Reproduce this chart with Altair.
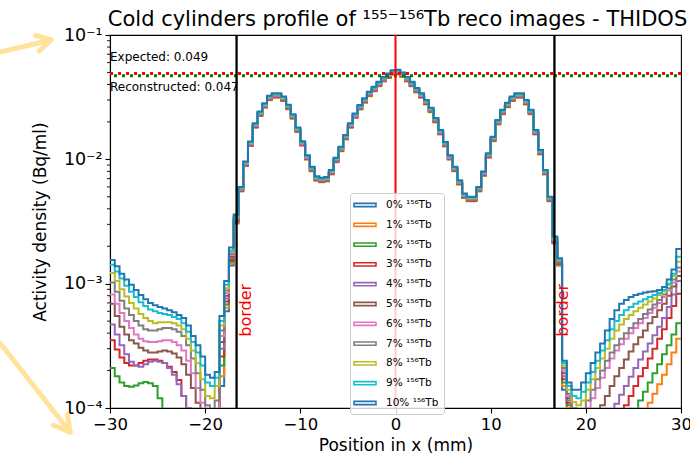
import altair as alt
import pandas as pd

FONT = "DejaVu Sans"

# ---------------- data ----------------
series_labels = ["0% ¹⁵⁶Tb", "1% ¹⁵⁶Tb", "2% ¹⁵⁶Tb", "3% ¹⁵⁶Tb", "4% ¹⁵⁶Tb", "5% ¹⁵⁶Tb",
                 "6% ¹⁵⁶Tb", "7% ¹⁵⁶Tb", "8% ¹⁵⁶Tb", "9% ¹⁵⁶Tb", "10% ¹⁵⁶Tb"]
series_colors = ["#1f77b4", "#ff7f0e", "#2ca02c", "#d62728", "#9467bd", "#8c564b",
                 "#e377c2", "#7f7f7f", "#bcbd22", "#17becf", "#1f77b4"]

bin_width = 0.5          # mm, profile sampling
x_first_edge = -30.0
x_last_edge = 30.0

# left tails: bins starting at -30.0, -29.5, ..., -17.0 (27 bins), series 0% .. 10%
left_tail = [
    [6.0e-5, 5.3e-5, 4.8e-5, 4.5e-5, 4.4e-5, 4.4e-5, 4.5e-5, 4.6e-5, 4.5e-5, 4.3e-5,
     4.1e-5, 3.9e-5, 3.7e-5, 3.5e-5, 3.3e-5, 3.1e-5, 3.0e-5, 2.9e-5, 2.8e-5, 2.7e-5,
     2.7e-5, 2.7e-5, 2.9e-5, 1.5e-4, 6.0e-4, 1.4e-3, 3.05e-3],
    [9.5e-5, 8.0e-5, 7.0e-5, 6.5e-5, 6.2e-5, 6.2e-5, 6.4e-5, 6.5e-5, 6.3e-5, 6.0e-5,
     5.6e-5, 5.2e-5, 4.8e-5, 4.5e-5, 4.2e-5, 4.0e-5, 3.8e-5, 3.6e-5, 3.5e-5, 3.4e-5,
     3.3e-5, 3.3e-5, 3.5e-5, 1.8e-4, 6.4e-4, 1.45e-3, 3.1e-3],
    [2.1e-4, 1.8e-4, 1.6e-4, 1.5e-4, 1.48e-4, 1.52e-4, 1.58e-4, 1.62e-4, 1.58e-4, 1.5e-4,
     1.2e-4, 9.0e-5, 7.5e-5, 6.5e-5, 5.5e-5, 5.0e-5, 4.5e-5, 4.2e-5, 4.0e-5, 3.8e-5,
     3.7e-5, 3.7e-5, 4.0e-5, 2.2e-4, 6.8e-4, 1.5e-3, 3.15e-3],
    [3.5e-4, 2.95e-4, 2.55e-4, 2.3e-4, 2.2e-4, 2.2e-4, 2.3e-4, 2.4e-4, 2.45e-4, 2.45e-4,
     2.4e-4, 2.3e-4, 2.15e-4, 1.95e-4, 1.68e-4, 1.25e-4, 9.0e-5, 7.0e-5, 6.0e-5, 5.5e-5,
     5.0e-5, 5.0e-5, 6.0e-5, 2.6e-4, 7.2e-4, 1.55e-3, 3.2e-3],
    [4.7e-4, 3.9e-4, 3.2e-4, 2.7e-4, 2.35e-4, 2.2e-4, 2.15e-4, 2.25e-4, 2.35e-4, 2.4e-4,
     2.35e-4, 2.3e-4, 2.1e-4, 1.85e-4, 1.55e-4, 1.25e-4, 1.0e-4, 8.5e-5, 7.5e-5, 6.5e-5,
     6.0e-5, 6.0e-5, 7.0e-5, 3.0e-4, 7.6e-4, 1.6e-3, 3.25e-3],
    [6.9e-4, 5.5e-4, 4.5e-4, 3.9e-4, 3.5e-4, 3.3e-4, 3.05e-4, 2.9e-4, 2.8e-4, 2.8e-4,
     2.85e-4, 2.9e-4, 2.85e-4, 2.75e-4, 2.55e-4, 2.25e-4, 1.85e-4, 1.45e-4, 1.1e-4, 8.5e-5,
     7.0e-5, 7.0e-5, 8.5e-5, 3.4e-4, 8.0e-4, 1.65e-3, 3.3e-3],
    [8.2e-4, 6.9e-4, 5.8e-4, 5.0e-4, 4.4e-4, 3.9e-4, 3.6e-4, 3.45e-4, 3.4e-4, 3.4e-4,
     3.45e-4, 3.5e-4, 3.5e-4, 3.4e-4, 3.2e-4, 2.9e-4, 2.4e-4, 1.9e-4, 1.45e-4, 1.1e-4,
     8.5e-5, 8.0e-5, 9.5e-5, 3.8e-4, 8.4e-4, 1.7e-3, 3.35e-3],
    [1.02e-3, 8.6e-4, 7.3e-4, 6.3e-4, 5.6e-4, 5.0e-4, 4.6e-4, 4.3e-4, 4.2e-4, 4.2e-4,
     4.3e-4, 4.4e-4, 4.4e-4, 4.3e-4, 4.1e-4, 3.8e-4, 3.2e-4, 2.5e-4, 1.9e-4, 1.4e-4,
     1.05e-4, 9.5e-5, 1.15e-4, 4.2e-4, 8.8e-4, 1.75e-3, 3.4e-3],
    [1.22e-3, 1.05e-3, 9.0e-4, 7.9e-4, 7.0e-4, 6.3e-4, 5.7e-4, 5.3e-4, 5.0e-4, 4.8e-4,
     4.9e-4, 4.9e-4, 4.9e-4, 4.8e-4, 4.6e-4, 4.3e-4, 3.6e-4, 2.9e-4, 2.3e-4, 1.7e-4,
     1.25e-4, 1.2e-4, 1.5e-4, 4.6e-4, 9.2e-4, 1.8e-3, 3.45e-3],
    [1.42e-3, 1.25e-3, 1.1e-3, 9.6e-4, 8.6e-4, 7.8e-4, 7.1e-4, 6.6e-4, 6.2e-4, 6.0e-4,
     5.8e-4, 5.7e-4, 5.6e-4, 5.4e-4, 5.2e-4, 4.8e-4, 4.1e-4, 3.4e-4, 2.8e-4, 2.2e-4,
     1.6e-4, 1.5e-4, 1.75e-4, 5.0e-4, 9.8e-4, 1.85e-3, 3.5e-3],
    [1.55e-3, 1.38e-3, 1.2e-3, 1.08e-3, 9.8e-4, 8.9e-4, 8.1e-4, 7.5e-4, 7.0e-4, 6.7e-4,
     6.5e-4, 6.3e-4, 6.1e-4, 5.9e-4, 5.6e-4, 5.3e-4, 4.6e-4, 3.8e-4, 3.2e-4, 2.6e-4,
     1.85e-4, 1.75e-4, 1.95e-4, 5.5e-4, 1.05e-3, 1.95e-3, 3.6e-3],
]

# core (cylinders) profile of the top (10%) curve: bins starting -16.5 ... 16.0 (66 bins)
core_profile = [
    6.0e-3, 9.6e-3, 1.39e-2, 1.95e-2, 2.42e-2, 2.82e-2, 3.25e-2, 3.4e-2, 3.4e-2, 3.2e-2,
    2.75e-2, 2.3e-2, 1.8e-2, 1.4e-2, 1.08e-2, 8.7e-3, 7.3e-3, 7.1e-3, 7.2e-3, 8.2e-3,
    1.03e-2, 1.26e-2, 1.57e-2, 1.95e-2, 2.34e-2, 2.73e-2, 3.1e-2, 3.5e-2, 3.83e-2, 4.2e-2,
    4.6e-2, 4.9e-2, 5.2e-2, 5.25e-2,
    5.0e-2, 4.6e-2, 4.2e-2, 3.75e-2, 3.4e-2, 3.0e-2, 2.6e-2, 2.15e-2, 1.72e-2, 1.38e-2,
    1.08e-2, 8.7e-3, 6.8e-3, 5.3e-3, 5.0e-3, 5.0e-3, 6.0e-3, 8.0e-3, 1.12e-2, 1.52e-2,
    2.07e-2, 2.5e-2, 2.85e-2, 3.2e-2, 3.4e-2, 3.4e-2, 3.0e-2, 2.5e-2, 1.72e-2, 1.19e-2,
    8.2e-3, 5.0e-3,
]
# relative level of each series inside the cylinders (the coloured steps under the blue one)
core_level = [0.97, 0.92, 0.93, 0.935, 0.94, 0.95, 0.955, 0.965, 0.975, 0.985, 1.0]

# right tails: bins starting at 16.5, 17.0, ..., 29.5 (27 bins)
right_tail = [
    [2.1e-3, 1.4e-3, 1.4e-4, 9.5e-5, 6.5e-5, 5.0e-5, 4.5e-5, 4.2e-5, 4.0e-5, 4.0e-5,
     4.1e-5, 4.2e-5, 4.4e-5, 4.6e-5, 4.8e-5, 5.0e-5, 5.3e-5, 5.6e-5, 6.0e-5, 6.4e-5,
     6.8e-5, 7.3e-5, 7.8e-5, 8.4e-5, 9.0e-5, 9.5e-5, 9.8e-5],
    [2.12e-3, 1.41e-3, 1.5e-4, 1.0e-4, 7.0e-5, 5.5e-5, 5.0e-5, 4.8e-5, 4.7e-5, 4.8e-5,
     5.0e-5, 5.3e-5, 5.6e-5, 6.0e-5, 6.4e-5, 6.9e-5, 7.4e-5, 8.0e-5, 8.8e-5, 9.6e-5,
     1.1e-4, 1.3e-4, 1.55e-4, 1.85e-4, 2.25e-4, 2.8e-4, 3.6e-4],
    [2.15e-3, 1.43e-3, 1.6e-4, 1.05e-4, 7.5e-5, 6.0e-5, 5.5e-5, 5.2e-5, 5.2e-5, 5.4e-5,
     5.7e-5, 6.0e-5, 6.4e-5, 6.8e-5, 7.3e-5, 7.9e-5, 8.6e-5, 9.5e-5, 1.15e-4, 1.35e-4,
     1.6e-4, 1.9e-4, 2.25e-4, 2.7e-4, 3.2e-4, 3.9e-4, 4.8e-4],
    [2.18e-3, 1.45e-3, 1.7e-4, 1.1e-4, 8.0e-5, 6.5e-5, 6.0e-5, 5.8e-5, 6.0e-5, 6.3e-5,
     6.7e-5, 7.2e-5, 7.8e-5, 8.5e-5, 9.3e-5, 1.05e-4, 1.25e-4, 1.5e-4, 1.8e-4, 2.1e-4,
     2.5e-4, 3.0e-4, 3.6e-4, 4.3e-4, 5.3e-4, 6.6e-4, 8.3e-4],
    [2.2e-3, 1.47e-3, 1.8e-4, 1.15e-4, 8.5e-5, 7.0e-5, 6.5e-5, 6.5e-5, 7.0e-5, 7.5e-5,
     8.0e-5, 8.8e-5, 9.6e-5, 1.08e-4, 1.28e-4, 1.5e-4, 1.78e-4, 2.1e-4, 2.45e-4, 2.85e-4,
     3.3e-4, 3.85e-4, 4.5e-4, 5.3e-4, 6.5e-4, 8.2e-4, 1.05e-3],
    [2.22e-3, 1.49e-3, 1.9e-4, 1.2e-4, 9.0e-5, 7.8e-5, 7.5e-5, 7.8e-5, 8.5e-5, 9.5e-5,
     1.05e-4, 1.25e-4, 1.5e-4, 1.8e-4, 2.1e-4, 2.45e-4, 2.85e-4, 3.25e-4, 3.7e-4, 4.2e-4,
     4.8e-4, 5.4e-4, 6.1e-4, 6.9e-4, 8.0e-4, 9.5e-4, 1.15e-3],
    [2.25e-3, 1.51e-3, 2.0e-4, 1.25e-4, 9.5e-5, 8.5e-5, 8.8e-5, 1.0e-4, 1.2e-4, 1.45e-4,
     1.75e-4, 2.1e-4, 2.5e-4, 2.9e-4, 3.25e-4, 3.6e-4, 4.0e-4, 4.4e-4, 4.8e-4, 5.3e-4,
     5.8e-4, 6.4e-4, 7.0e-4, 7.8e-4, 8.8e-4, 1.02e-3, 1.25e-3],
    [2.28e-3, 1.53e-3, 2.1e-4, 1.3e-4, 1.0e-4, 9.2e-5, 9.8e-5, 1.15e-4, 1.4e-4, 1.7e-4,
     2.0e-4, 2.4e-4, 2.8e-4, 3.2e-4, 3.6e-4, 4.0e-4, 4.4e-4, 4.8e-4, 5.2e-4, 5.7e-4,
     6.2e-4, 6.8e-4, 7.4e-4, 8.2e-4, 9.2e-4, 1.08e-3, 1.35e-3],
    [2.3e-3, 1.55e-3, 2.2e-4, 1.4e-4, 1.12e-4, 1.05e-4, 1.15e-4, 1.4e-4, 1.7e-4, 2.1e-4,
     2.5e-4, 3.0e-4, 3.6e-4, 4.2e-4, 4.7e-4, 5.2e-4, 5.6e-4, 6.0e-4, 6.4e-4, 6.8e-4,
     7.2e-4, 7.6e-4, 8.1e-4, 8.7e-4, 9.8e-4, 1.15e-3, 1.5e-3],
    [2.35e-3, 1.57e-3, 2.3e-4, 1.5e-4, 1.25e-4, 1.2e-4, 1.35e-4, 1.6e-4, 1.95e-4, 2.4e-4,
     2.9e-4, 3.5e-4, 4.3e-4, 5.0e-4, 5.6e-4, 6.1e-4, 6.5e-4, 6.9e-4, 7.2e-4, 7.5e-4,
     7.8e-4, 8.1e-4, 8.4e-4, 8.9e-4, 1.0e-3, 1.2e-3, 1.65e-3],
    [2.4e-3, 1.6e-3, 2.4e-4, 1.6e-4, 1.4e-4, 1.4e-4, 1.6e-4, 1.9e-4, 2.3e-4, 2.8e-4,
     3.3e-4, 4.2e-4, 5.2e-4, 6.1e-4, 6.9e-4, 7.4e-4, 7.8e-4, 8.1e-4, 8.3e-4, 8.5e-4,
     8.6e-4, 8.7e-4, 8.9e-4, 9.4e-4, 1.08e-3, 1.3e-3, 1.9e-3],
]

expected_value = 0.049
reconstructed_value = 0.047
border_positions = [-16.7, 16.7]
center_position = [0.0]

x_ticks = [-30, -20, -10, 0, 10, 20, 30]
y_ticks = [1e-4, 1e-3, 1e-2, 1e-1]
y_tick_labels = ["10⁻⁴", "10⁻³", "10⁻²", "10⁻¹"]
minor_y_ticks = [2e-4, 3e-4, 4e-4, 5e-4, 6e-4, 7e-4, 8e-4, 9e-4,
                 2e-3, 3e-3, 4e-3, 5e-3, 6e-3, 7e-3, 8e-3, 9e-3,
                 2e-2, 3e-2, 4e-2, 5e-2, 6e-2, 7e-2, 8e-2, 9e-2]

title_text = "Cold cylinders profile of ¹⁵⁵⁻¹⁵⁶Tb reco images - THIDOS"

# ---------------- tables ----------------
rows = []
for i, lab in enumerate(series_labels):
    vals = left_tail[i] + [c * core_level[i] for c in core_profile] + right_tail[i]
    for k, v in enumerate(vals):
        rows.append({"series": lab, "x": x_first_edge + k * bin_width, "value": v})
    rows.append({"series": lab, "x": x_last_edge, "value": vals[-1]})
df = pd.DataFrame(rows)

W, H = 571, 373

x_scale = alt.Scale(domain=[x_first_edge, x_last_edge], nice=False, zero=False)
y_scale = alt.Scale(type="log", domain=[1e-4, 1e-1], nice=False)

x_axis = alt.Axis(
    values=x_ticks,
    labelExpr="datum.value < 0 ? '−' + format(-datum.value, 'd') : format(datum.value, 'd')",
    tickSize=5, tickWidth=1.1, tickColor="black", domainColor="black", domainWidth=1.1,
    labelFontSize=16.5, labelFont=FONT, labelColor="black", labelPadding=3, labelFlush=False,
    titleFontSize=17, titleFont=FONT, titleColor="black", titleFontWeight="normal",
    titlePadding=5, grid=False,
)
y_label_expr = " : ".join(
    [f"datum.value < {t * 1.5} ? '{l}'" for t, l in zip(y_ticks[:-1], y_tick_labels[:-1])]
) + f" : '{y_tick_labels[-1]}'"
y_axis = alt.Axis(
    values=y_ticks, labelExpr=y_label_expr,
    tickSize=5, tickWidth=1.1, tickColor="black", domainColor="black", domainWidth=1.1,
    labelFontSize=17.5, labelFont=FONT, labelColor="black", labelPadding=3,
    titleFontSize=17, titleFont=FONT, titleColor="black", titleFontWeight="normal",
    titlePadding=14, grid=False,
)

x_enc = alt.X("x:Q", scale=x_scale, axis=x_axis, title="Position in x (mm)")
y_enc = alt.Y("value:Q", scale=y_scale, axis=y_axis, title="Activity density (Bq/ml)")

lines = alt.Chart(df).mark_line(
    interpolate="step-after", strokeWidth=2, clip=True, strokeJoin="miter"
).encode(
    x=x_enc, y=y_enc,
    color=alt.Color(
        "series:N",
        scale=alt.Scale(domain=series_labels, range=series_colors),
        legend=alt.Legend(
            title=None, orient="none", legendX=240, legendY=158,
            symbolType="M-1.83,-0.27H1.83V0.27H-1.83Z", symbolSize=144,
            symbolStrokeWidth=1.6, symbolFillColor="transparent",
            symbolOffset=3, labelOffset=14, labelFontSize=10.5, labelFont=FONT,
            labelColor="black", labelLimit=0, rowPadding=6.8, padding=5,
            fillColor="rgba(255,255,255,0.8)", strokeColor="#cccccc", cornerRadius=3,
        ),
    ),
)

minor_ticks = alt.Chart(pd.DataFrame({"value": minor_y_ticks})).mark_rule(
    color="black", strokeWidth=0.9
).encode(y=y_enc, x=alt.value(0), x2=alt.value(-3))

hline_green = alt.Chart(pd.DataFrame({"value": [reconstructed_value]})).mark_rule(
    color="#008000", strokeWidth=3, strokeDash=[3, 5], strokeDashOffset=4
).encode(y=y_enc)
hline_red = alt.Chart(pd.DataFrame({"value": [expected_value]})).mark_rule(
    color="#ff0000", strokeWidth=3, strokeDash=[3, 5]
).encode(y=y_enc)

ann = pd.DataFrame({
    "x": [x_first_edge, x_first_edge],
    "value": [0.0623, 0.0352],
    "label": [f"Expected: {expected_value}", f"Reconstructed: {reconstructed_value}"],
})
ann_text = alt.Chart(ann).mark_text(
    align="left", baseline="alphabetic", fontSize=12, font=FONT, color="black"
).encode(x=x_enc, y=y_enc, text="label:N")

border_rules = alt.Chart(pd.DataFrame({"x": border_positions})).mark_rule(
    color="black", strokeWidth=2.3
).encode(x=x_enc)
center_rule = alt.Chart(pd.DataFrame({"x": center_position})).mark_rule(
    color="#ff0000", strokeWidth=2
).encode(x=x_enc)

border_text = alt.Chart(pd.DataFrame({"x": border_positions, "value": [6.1e-4, 6.1e-4],
                                      "label": ["border", "border"]})).mark_text(
    angle=270, align="center", baseline="top", fontSize=16, font=FONT, color="#ff0000", dy=1
).encode(x=x_enc, y=y_enc, text="label:N")

# the two yellow arrows drawn over the screenshot (annotation, in axis units)
arrows = pd.DataFrame({
    "x":      [-41.56, -37.81, -37.43, -41.56, -34.47, -35.96],
    "value":  [0.0730, 0.0993, 0.0744, 3.33e-4, 8.91e-5, 7.26e-5],
    "x2":     [-36.20, -36.20, -36.20, -34.20, -34.20, -34.20],
    "value2": [0.0912, 0.0912, 0.0912, 6.41e-5, 6.41e-5, 6.41e-5],
})
arrow_layer = alt.Chart(arrows).mark_rule(
    color="#FFE39A", strokeWidth=5, strokeCap="round", clip=False
).encode(x=x_enc, y=y_enc, x2="x2:Q", y2="value2:Q")

# chart title, centred over the plot area, drawn as a text mark above it
title_layer = alt.Chart(pd.DataFrame({"label": [title_text]})).mark_text(
    align="center", baseline="alphabetic", fontSize=21, font=FONT, color="black"
).encode(text="label:N", x=alt.value(W / 2 + 2), y=alt.value(-9))

chart = alt.layer(
    lines, minor_ticks, hline_green, hline_red, ann_text,
    border_rules, center_rule, border_text, arrow_layer, title_layer,
).properties(
    width=W, height=H,
    autosize=alt.AutoSizeParams(type="none"),
    padding={"left": 110, "top": 35, "right": 9, "bottom": 55},
).configure(font=FONT).configure_view(stroke="black", strokeWidth=1.1)

chart.save("out.html", embed_options={"renderer": "svg", "actions": False})
